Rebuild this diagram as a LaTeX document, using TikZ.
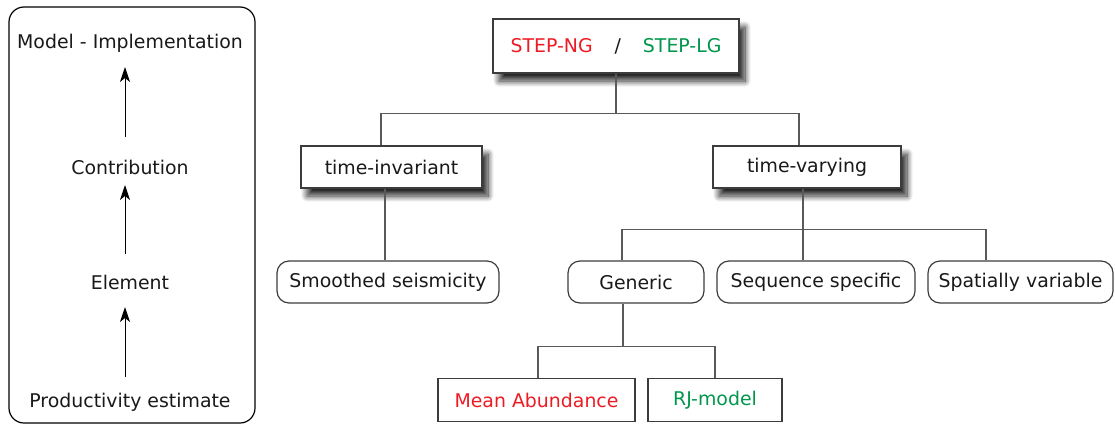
\documentclass[tikz,border=0pt]{standalone}
\usepackage{fontspec}
\setmainfont{DejaVu Sans}
\usetikzlibrary{arrows.meta,shadows.blur}

\definecolor{stepred}{RGB}{237,28,36}
\definecolor{stepgreen}{RGB}{0,150,75}
\definecolor{edge}{RGB}{60,60,60}

\tikzset{
  every node/.style={font=\fontsize{18.9}{22}\selectfont, text=black!90},
  catbox/.style={draw=edge, line width=1.2pt, fill=white, minimum height=42pt,
    blur shadow={shadow xshift=6pt, shadow yshift=-8pt, shadow blur radius=6pt,
      shadow blur steps=12, shadow opacity=85}},
  subbox/.style={draw=edge, line width=1.2pt, rounded corners=12pt, minimum height=42pt},
  leafbox/.style={draw=edge, line width=1.2pt, minimum height=43pt},
  link/.style={draw=black!65, line width=1.2pt},
  uparrow/.style={-{Stealth[length=15pt,width=10pt,inset=4pt]}, line width=1pt}
}

\begin{document}
\begin{tikzpicture}[x=1pt,y=-1pt]
  \useasboundingbox (0,0) rectangle (1115,426);

  % hierarchy of terms
  \draw[line width=1.2pt, rounded corners=15pt] (9,7) rectangle (255,423);
  \node (model) at (130,43) {Model - Implementation};
  \node (contrib) at (130,167) {Contribution};
  \node (elem) at (130,282) {Element};
  \node (prod) at (130,402) {Productivity estimate};
  \draw[uparrow] ([xshift=-5pt,yshift=25pt]prod.center) -- ([xshift=-5pt,yshift=-25pt]elem.center);
  \draw[uparrow] ([xshift=-5pt,yshift=28pt]elem.center) -- ([xshift=-5pt,yshift=-18pt]contrib.center);
  \draw[uparrow] ([xshift=-5pt,yshift=30pt]contrib.center) -- ([xshift=-5pt,yshift=-24pt]model.center);

  % tree
  \node[catbox, minimum width=246pt, minimum height=54pt] (step) at (616,46)
    {{\color{stepred}STEP-NG}\hspace{22pt}/\hspace{22pt}{\color{stepgreen}STEP-LG}};
  \node[catbox, minimum width=181pt] (tinv) at (391.5,167) {time-invariant};
  \node[catbox, minimum width=188pt] (tvar) at (807,167) {time-varying};

  \node[subbox, minimum width=222pt] (smooth) at (388,282) {Smoothed seismicity};
  \node[subbox, minimum width=136pt] (gen) at (636,282) {Generic};
  \node[subbox, minimum width=198pt] (seq) at (816,282) {Sequence specific};
  \node[subbox, minimum width=185pt] (spat) at (1020.5,282) {Spatially variable};

  \node[leafbox, minimum width=197pt, text=stepred] (mean) at (536.5,400) {Mean Abundance};
  \node[leafbox, minimum width=134pt, text=stepgreen] (rj) at (715,400) {RJ-model};

  \draw[link] (step.south) -- ++(0,40) coordinate (bus1);
  \draw[link] ([xshift=-10.5pt]tinv.north) |- (bus1) -| ([xshift=-8pt]tvar.north);
  \draw[link] ([xshift=-6.5pt]tinv.south) -- ([xshift=-3pt]smooth.north);

  \draw[link] ([xshift=-4pt]tvar.south) -- ++(0,41) coordinate (bus2);
  \draw[link] ([xshift=-14pt]gen.north) |- (bus2) -| ([xshift=-34.5pt]spat.north);
  \draw[link] (bus2) -- ([xshift=-13pt]seq.north);

  \draw[link] ([xshift=-13pt]gen.south) -- ++(0,43) coordinate (bus3);
  \draw[link] ([xshift=1.5pt]mean.north) |- (bus3) -| (rj.north);
\end{tikzpicture}
\end{document}
